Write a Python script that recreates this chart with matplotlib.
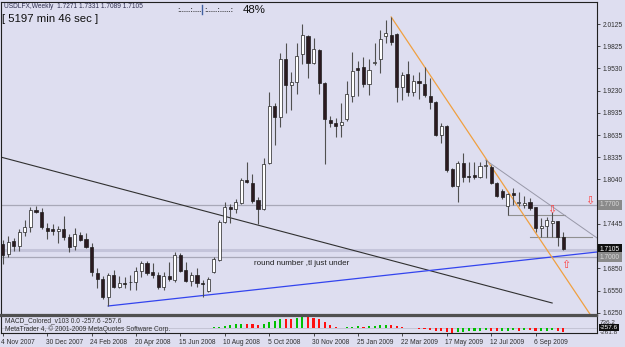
import matplotlib
matplotlib.use('Agg')
import matplotlib.pyplot as plt
from matplotlib.patches import Rectangle
from matplotlib.lines import Line2D
import matplotlib.transforms as mtransforms

# ---------------- data ----------------
opens = [1.7175, 1.7041, 1.7215, 1.7148, 1.7336, 1.7403, 1.7631, 1.7604, 1.7390, 1.7376,
         1.7349, 1.7376, 1.7269, 1.7148, 1.7296, 1.7242, 1.7135, 1.6786, 1.6706, 1.6464,
         1.6759, 1.6598, 1.6652, 1.6659, 1.6665, 1.6813, 1.6920, 1.6799, 1.6759, 1.6598,
         1.6746, 1.6692, 1.7027, 1.6826, 1.6679, 1.6759, 1.6652, 1.6545, 1.6799, 1.6960,
         1.7470, 1.7671, 1.7644, 1.7725, 1.8033, 1.7993, 1.7765, 1.7644, 1.8261, 1.9026,
         1.8878, 1.9656, 1.9307, 1.9347, 1.9723, 1.9964, 1.9602, 1.9776, 1.9334, 1.8838,
         1.8798, 1.8771, 1.8851, 1.9160, 1.9535, 1.9549, 1.9321, 1.9602, 1.9656, 1.9964,
         1.9978, 1.9991, 1.9280, 1.9455, 1.9213, 1.9361, 1.9321, 1.9160, 1.9079, 1.8637,
         1.8757, 1.8181, 1.7953, 1.8261, 1.8087, 1.8100, 1.8073, 1.8221, 1.8208, 1.7993,
         1.7886, 1.7685, 1.7859, 1.7725, 1.7698, 1.7738, 1.7671, 1.7390, 1.7416, 1.7457,
         1.7483, 1.7271]
highs = [1.7229, 1.7282, 1.7255, 1.7376, 1.7497, 1.7671, 1.7685, 1.7658, 1.7457, 1.7443,
         1.7416, 1.7550, 1.7309, 1.7390, 1.7336, 1.7322, 1.7188, 1.6853, 1.6746, 1.6786,
         1.6826, 1.6746, 1.6732, 1.6759, 1.6867, 1.6947, 1.6947, 1.6920, 1.6799, 1.6799,
         1.6934, 1.7068, 1.7054, 1.6934, 1.6799, 1.6853, 1.6692, 1.6732, 1.7001, 1.7497,
         1.7738, 1.7711, 1.7778, 1.8060, 1.8275, 1.8114, 1.7805, 1.8328, 1.9213, 1.9066,
         1.9736, 1.9870, 1.9481, 1.9870, 2.0125, 1.9978, 1.9937, 1.9790, 1.9347, 1.8891,
         1.8865, 1.9066, 1.9361, 1.9750, 1.9629, 1.9683, 1.9656, 1.9870, 2.0045, 2.0179,
         2.0219, 2.0004, 1.9481, 1.9629, 1.9441, 1.9481, 1.9549, 1.9401, 1.9093, 1.8798,
         1.8771, 1.8194, 1.8288, 1.8395, 1.8275, 1.8275, 1.8275, 1.8301, 1.8234, 1.8006,
         1.7913, 1.7859, 1.7926, 1.7872, 1.7819, 1.7792, 1.7671, 1.7524, 1.7537, 1.7604,
         1.7483, 1.7331]
lows = [1.6907, 1.7001, 1.7081, 1.7081, 1.7282, 1.7336, 1.7591, 1.7376, 1.7242, 1.7296,
        1.7188, 1.7229, 1.7068, 1.7094, 1.7215, 1.7121, 1.6746, 1.6585, 1.6437, 1.6344,
        1.6585, 1.6585, 1.6585, 1.6558, 1.6558, 1.6732, 1.6759, 1.6719, 1.6572, 1.6558,
        1.6679, 1.6665, 1.6799, 1.6665, 1.6612, 1.6598, 1.6464, 1.6531, 1.6786, 1.6947,
        1.7457, 1.7457, 1.7591, 1.7711, 1.7993, 1.7725, 1.7443, 1.7631, 1.8248, 1.8503,
        1.8744, 1.8932, 1.8972, 1.9186, 1.9589, 1.9401, 1.9595, 1.9186, 1.8248, 1.8744,
        1.8610, 1.8610, 1.8824, 1.9079, 1.9160, 1.9280, 1.9173, 1.9575, 1.9468, 1.9870,
        1.9844, 1.9079, 1.9106, 1.9160, 1.9160, 1.9119, 1.9146, 1.8985, 1.8623, 1.8529,
        1.8140, 1.7939, 1.7738, 1.8006, 1.8006, 1.8047, 1.8060, 1.8060, 1.7980, 1.7805,
        1.7778, 1.7564, 1.7698, 1.7685, 1.7658, 1.7631, 1.7336, 1.7269, 1.7269, 1.7269,
        1.7148, 1.7089]
closes = [1.7027, 1.7202, 1.7148, 1.7336, 1.7403, 1.7631, 1.7604, 1.7403, 1.7349, 1.7349,
          1.7376, 1.7269, 1.7135, 1.7309, 1.7229, 1.7135, 1.6799, 1.6706, 1.6464, 1.6759,
          1.6598, 1.6652, 1.6645, 1.6665, 1.6813, 1.6920, 1.6786, 1.6759, 1.6598, 1.6746,
          1.6706, 1.7027, 1.6813, 1.6679, 1.6759, 1.6652, 1.6639, 1.6706, 1.6974, 1.7470,
          1.7671, 1.7644, 1.7738, 1.8033, 1.8006, 1.7752, 1.7644, 1.8248, 1.9026, 1.8878,
          1.9656, 1.9307, 1.9347, 1.9696, 1.9978, 1.9602, 1.9790, 1.9334, 1.8851, 1.8798,
          1.8757, 1.8811, 1.9186, 1.9495, 1.9508, 1.9321, 1.9508, 1.9616, 1.9924, 2.0004,
          1.9884, 1.9280, 1.9441, 1.9213, 1.9361, 1.9334, 1.9173, 1.9079, 1.8637, 1.8757,
          1.8167, 1.7953, 1.8261, 1.8073, 1.8067, 1.8073, 1.8221, 1.8234, 1.7993, 1.7819,
          1.7805, 1.7845, 1.7832, 1.7738, 1.7725, 1.7658, 1.7390, 1.7416, 1.7497, 1.7483,
          1.7269, 1.7105]

# MACD histogram (points), from bar 38 onward
macd_start = 38
macd_hist = [40, 90, 150, 200, 230, 280, 260, 240, 210, 280,
             420, 450, 600, 580, 560, 620, 736, 700, 650, 560,
             380, 200, 80, 20, 30, 90, 100, 80, 100, 130,
             180, 220, 200, 120, 60, 10, -20, -40, -80, -120,
             -200, -220, -280, -300, -250, -240, -220, -200, -170, -160,
             -170, -200, -190, -180, -160, -170, -150, -160, -190, -180,
             -170, -160, -200, -257.6]

date_ticks = list(range(0, 97, 8))
date_labels = ["4 Nov 2007", "30 Dec 2007", "24 Feb 2008", "20 Apr 2008", "15 Jun 2008",
               "10 Aug 2008", "5 Oct 2008", "30 Nov 2008", "25 Jan 2009", "22 Mar 2009",
               "17 May 2009", "12 Jul 2009", "6 Sep 2009"]
price_ticks = [2.0125, 1.9825, 1.9530, 1.9230, 1.8935, 1.8635, 1.8335, 1.8040,
               1.7445, 1.6850, 1.6550, 1.6250]
macd_labels = ["736.2", "-261.8"]

# trendlines (bar index, price)
black_tl = [(-0.31, 1.8340), (99, 1.6384)]
blue_tl = [(19, 1.6344), (107.1, 1.7068)]
orange_tl = [(70, 2.0219), (106.0, 1.6214)]
gray_tl = [(87, 1.8301), (107.1, 1.7255)]
hlines_full = [1.7700, 1.7000]
bid_price = 1.7105
short_levels = [(91, 101.3, 1.7564), (95, 106.2, 1.7269)]
arrows = [(99, 1.7631, '⇩'), (101.5, 1.6893, '⇧'), (105.8, 1.7752, '⇩')]

# ---------------- figure ----------------
W, H = 625, 347
fig = plt.figure(figsize=(W / 100, H / 100), dpi=100)
BG = '#dedef0'
fig.patch.set_facecolor(BG)
FONT = 'Liberation Sans'


def px_axes(x0, y0, x1, y1):
    return fig.add_axes([x0 / W, 1 - y1 / H, (x1 - x0) / W, (y1 - y0) / H])


def ftext(x, y, s, **kw):
    kw.setdefault('family', FONT)
    fig.text(x / W, 1 - y / H, s, **kw)


XMIN, XMAX = -0.31, 107.08
ax = px_axes(1, 2, 597, 315)
ax.set_facecolor(BG)
ax.set_xlim(XMIN, XMAX)
ax.set_ylim(1.6223, 2.0420)
for s in ax.spines.values():
    s.set_color('#202020')
    s.set_linewidth(0.8)
ax.spines['bottom'].set_linewidth(1.6)
ax.spines['bottom'].set_color('#505050')
ax.set_xticks([])
ax.yaxis.tick_right()
ax.set_yticks(price_ticks)
ax.set_yticklabels([f"{p:.4f}" for p in price_ticks])
ax.tick_params(axis='y', direction='out', length=2, width=0.6, pad=2,
               labelsize=4.8, labelcolor='#303030', colors='#303030')
for t in ax.get_yticklabels():
    t.set_family(FONT)

# horizontal levels
for p in hlines_full:
    ax.axhline(p, color='#a8a8b8', lw=0.9, zorder=1)
ax.axhline(bid_price - 0.0012, color='#c4c4da', lw=2.2, zorder=1)
for x0, x1, p in short_levels:
    ax.plot([x0, x1], [p, p], color='#909090', lw=0.8, zorder=1)

# trendlines
ax.plot(*zip(*black_tl), color='#303030', lw=0.8, zorder=2)
ax.plot(*zip(*blue_tl), color='#3344ee', lw=0.9, zorder=2)
ax.plot(*zip(*orange_tl), color='#f0a040', lw=0.9, zorder=2)
ax.plot(*zip(*gray_tl), color='#9898a8', lw=0.7, zorder=2)

# candles
bw = 0.56
for i, (o, h, l, c) in enumerate(zip(opens, highs, lows, closes)):
    bull = c >= o
    ax.plot([i, i], [l, h], color='#505050', lw=0.8, zorder=3, solid_capstyle='butt')
    lo, hi = min(o, c), max(o, c)
    hgt = max(hi - lo, 0.0004)
    ax.add_patch(Rectangle((i - bw / 2, lo), bw, hgt,
                           facecolor='white' if bull else '#2b1a20',
                           edgecolor='#202020', lw=0.5, zorder=4))

# arrows
for x, p, ch in arrows:
    ax.text(x, p, ch, color='#ff4040', fontsize=8, ha='center', va='center',
            family='DejaVu Sans', zorder=5)

ax.text(45.2, 1.6920, 'round number ,tl just under', fontsize=5.8,
        color='#202020', family=FONT, va='center', ha='left')

# price label boxes on right axis
trans = mtransforms.blended_transform_factory(ax.transAxes, ax.transData)
for p, fc, tc in [(1.7700, '#8a8a8a', '#d8d8d8'), (1.7105, '#101010', 'white'),
                  (1.7000, '#8a8a8a', '#d8d8d8')]:
    ax.text(1.005, p, f"{p:.4f}", transform=trans, fontsize=4.8, color=tc,
            family=FONT, va='center', ha='left', clip_on=False,
            bbox=dict(boxstyle='square,pad=0.25', fc=fc, ec='none'), zorder=6)

# header texts
ftext(4, 7, 'USDLFX,Weekly  1.7271 1.7331 1.7089 1.7105', fontsize=4.8,
      color='#303050', va='center')
ftext(2, 19, '[ 5197 min 46 sec ]', fontsize=8.2, color='#101010', va='center')
ftext(177, 10, ':.....:....', fontsize=5.6, color='#202020', va='center',
      fontweight='bold')
ftext(204, 10, ':.....:.....:', fontsize=5.6, color='#202020', va='center',
      fontweight='bold')
fig.add_artist(Line2D([202 / W, 202 / W], [1 - 5 / H, 1 - 14 / H],
                      color='#4060a0', lw=1.0))
ftext(243, 10, '48%', fontsize=8.2, color='#101010', va='center')

# ---------------- MACD panel ----------------
ax2 = px_axes(1, 316, 597, 333)
ax2.set_facecolor(BG)
ax2.set_xlim(XMIN, XMAX)
ax2.set_ylim(-330, 780)
for s in ax2.spines.values():
    s.set_color('#202020')
    s.set_linewidth(0.8)
ax2.spines['top'].set_linewidth(1.6)
ax2.spines['top'].set_color('#505050')
ax2.set_yticks([])
ax2.set_xticks(date_ticks)
ax2.set_xticklabels([])
ax2.tick_params(axis='x', direction='out', length=2, width=0.6, colors='#303030')
prev = 0
for k, v in enumerate(macd_hist):
    i = macd_start + k
    col = '#00c000' if v >= prev else '#ff1010'
    ax2.bar(i, v, width=0.38, color=col, zorder=3)
    prev = v
ax2.axhline(0, color='#c0c0d0', lw=0.6, zorder=2)

ax2.text(0.006, 0.72, 'MACD_Colored_v103 0.0 -257.6 -257.6', transform=ax2.transAxes,
         fontsize=4.8, color='#303030', family=FONT, va='center')
ax2.text(0.006, 0.25, 'MetaTrader 4, © 2001-2009 MetaQuotes Software Corp.',
         transform=ax2.transAxes, fontsize=4.8, color='#303030', family=FONT, va='center')

ax2.text(1.005, 0.62, macd_labels[0], transform=ax2.transAxes, fontsize=4.6,
         color='#303030', family=FONT, va='center', clip_on=False)
ax2.text(1.005, 0.02, macd_labels[1], transform=ax2.transAxes, fontsize=4.6,
         color='#303030', family=FONT, va='center', clip_on=False)
ax2.text(1.005, 0.32, '-257.6', transform=ax2.transAxes, fontsize=4.6, color='white',
         family=FONT, va='center', clip_on=False, zorder=6,
         bbox=dict(boxstyle='square,pad=0.15', fc='#101010', ec='none'))

# date labels
transd = mtransforms.blended_transform_factory(ax2.transData, ax2.transAxes)
for t, lab in zip(date_ticks, date_labels):
    ax2.text(t - 0.25, -0.55, lab, transform=transd, fontsize=4.8, color='#303030',
             family=FONT, va='center', ha='left', clip_on=False)

fig.savefig('out.png', dpi=100, facecolor=BG)
